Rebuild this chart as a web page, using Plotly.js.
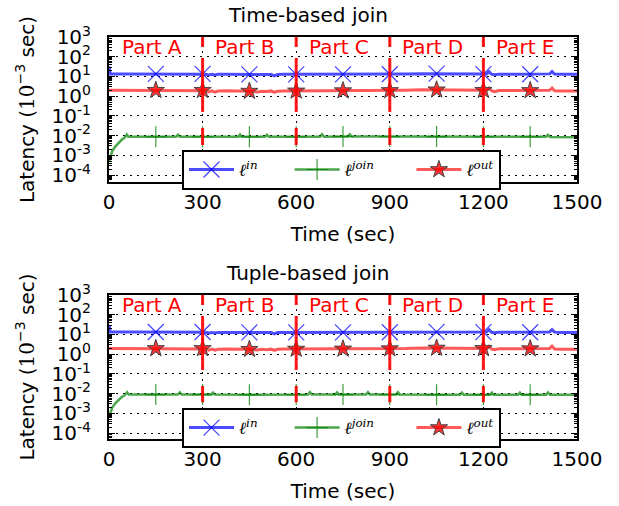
<!DOCTYPE html>
<html><head><meta charset="utf-8">
<script src="https://cdn.plot.ly/plotly-3.0.1.min.js"></script>
<style>html,body{margin:0;padding:0;background:#fff}#chart{width:619px;height:506px}</style>
</head><body><div id="chart"></div>
<script>
// ---- data ----
const tLat = [0,4,50,100,150,200,250,300,310,320,330,340,350,375,400,425,450,475,490,505,520,530,540,560,580,600,650,700,750,800,850,900,950,1000,1050,1100,1150,1200,1210,1218,1226,1235,1250,1300,1350,1400,1412,1420,1428,1450,1500];
const inTime  = [32,13.5,13.5,13.5,13.5,13.5,13.5,13.5,13.0,12.0,12.8,11.8,12.8,12.8,12.9,12.8,12.8,12.5,12.8,12.6,12.7,10.8,12.7,12.8,12.8,12.8,12.8,12.6,12.8,12.9,12.8,13.0,13.3,13.8,13.8,13.6,13.3,13.2,13.4,17.5,13.0,12.2,13.0,13.0,13.0,13.0,13.5,17.5,13.2,12.8,12.8];
const outTime = [2.0,2.0,2.0,2.0,2.0,2.0,2.0,2.0,1.9,1.65,1.85,1.6,1.85,1.9,1.9,1.85,1.8,1.65,1.8,1.72,1.85,1.55,1.8,1.85,1.85,1.85,1.9,1.85,1.9,1.9,1.9,1.95,2.0,2.1,2.1,2.05,2.0,2.0,2.0,2.6,1.9,1.7,1.95,1.95,1.95,1.95,2.0,2.6,1.9,1.85,1.85];
const tJoinTime = [0,5,10,20,30,40,50,57,62,70,150,215,221,227,300,414,420,426,450,500,506,512,600,677,683,689,750,766,772,778,900,1000,1050,1100,1200,1300,1350,1401,1407,1413,1500];
const joinTime  = [4.5e-4,1.0e-3,1.6e-3,2.8e-3,4.3e-3,6.0e-3,8.0e-3,0.0115,0.0088,0.0088,0.0088,0.0088,0.0112,0.0088,0.0088,0.0088,0.0115,0.0088,0.0088,0.0088,0.011,0.0088,0.0088,0.0089,0.0118,0.0089,0.009,0.009,0.0115,0.009,0.009,0.009,0.009,0.0089,0.0088,0.0088,0.0088,0.0088,0.011,0.0086,0.0084];

const inTuple  = [30,13.3,13.3,13.3,13.3,13.3,13.3,13.3,12.9,12.0,12.7,11.8,12.7,12.7,12.8,12.7,12.7,12.4,12.7,12.5,12.6,10.8,12.6,12.7,12.7,12.7,12.7,12.6,12.7,12.8,12.8,12.9,13.2,13.6,13.6,13.5,13.2,13.1,13.3,17.5,12.9,12.2,12.9,12.9,12.9,12.9,13.4,17.5,13.1,12.7,12.7];
const outTuple = [1.95,1.95,1.95,1.95,1.95,1.95,1.95,1.95,1.85,1.6,1.8,1.58,1.8,1.85,1.85,1.8,1.78,1.62,1.78,1.7,1.8,1.55,1.78,1.82,1.82,1.82,1.85,1.82,1.85,1.85,1.85,1.9,1.95,2.05,2.05,2.0,1.95,1.95,1.95,2.55,1.85,1.68,1.9,1.9,1.9,1.9,1.95,2.55,1.85,1.8,1.8];
const tJoinTuple = [0,5,10,20,30,40,50,58,63,70,150,221,227,233,300,327,333,339,450,600,638,644,650,725,731,737,750,824,830,836,900,920,926,932,1050,1125,1131,1137,1200,1221,1227,1233,1311,1317,1323,1350,1401,1407,1413,1500];
const joinTuple  = [6e-4,1.2e-3,1.9e-3,3.2e-3,4.8e-3,6.5e-3,8.3e-3,0.0118,0.009,0.009,0.009,0.009,0.0115,0.009,0.009,0.009,0.0113,0.009,0.0088,0.009,0.009,0.0118,0.009,0.009,0.0115,0.009,0.009,0.009,0.0118,0.009,0.009,0.009,0.0118,0.009,0.0088,0.0088,0.0112,0.0088,0.0088,0.0088,0.0112,0.0088,0.0088,0.0112,0.0088,0.0088,0.0088,0.0115,0.0088,0.0088];

const partLabels = ['Part A','Part B','Part C','Part D','Part E'];
const partStarts = [0,300,600,900,1200];
const partBounds = [300,600,900,1200];
const xTicks = [0,300,600,900,1200,1500];
const yTickVals = [1e-4,1e-3,1e-2,1e-1,1e0,1e1,1e2,1e3];
const yTickText = ['10<sup>-4</sup>','10<sup>-3</sup>','10<sup>-2</sup>','10<sup>-1</sup>','10<sup>0</sup>','10<sup>1</sup>','10<sup>2</sup>','10<sup>3</sup>'];
const markerStep = 150;
const seriesNames = ['<i>ℓ</i><sup><i>in</i></sup>','<i>ℓ</i><sup><i>join</i></sup>','<i>ℓ</i><sup><i>out</i></sup>'];

// ---- styles ----
const BLUE='rgba(0,0,255,0.7)', GREEN='rgba(0,128,0,0.7)', RED='rgba(255,0,0,0.65)';
const mkIn  = {symbol:'x-thin-open', size:16, color:'rgba(0,0,255,0.75)', line:{color:'rgba(0,0,255,0.75)', width:1.2}};
const mkJoin= {symbol:'cross-thin-open', size:15, color:'rgba(0,128,0,0.75)', line:{color:'rgba(0,128,0,0.75)', width:1.2}};
const mkOut = {symbol:'star', size:13, color:'rgba(255,0,0,0.8)', line:{color:'#444', width:1}};
const legendPad = ['&nbsp;&nbsp;&nbsp;&nbsp;&nbsp;','&nbsp;&nbsp;&nbsp;&nbsp;&nbsp;&nbsp;',''];

function pick(t, v){
  const xs=[], ys=[];
  t.forEach((tt,i)=>{ if(tt>0 && tt<1500 && tt%markerStep===0){ xs.push(tt); ys.push(v[i]); } });
  return {xs, ys};
}

function panel(xa, ya, leg, tl, vin, vout, tj, vjoin){
  const tr=[];
  const defs=[[tl,vin,BLUE,3,mkIn],[tj,vjoin,GREEN,2.5,mkJoin],[tl,vout,RED,3,mkOut]];
  defs.forEach(([t,v,c,w,mk])=>{
    tr.push({x:t, y:v, xaxis:xa, yaxis:ya, mode:'lines', line:{color:c, width:w}, showlegend:false, hoverinfo:'skip'});
  });
  defs.forEach(([t,v,c,w,mk])=>{
    const p=pick(t,v);
    tr.push({x:p.xs, y:p.ys, xaxis:xa, yaxis:ya, mode:'markers', marker:mk, showlegend:false, hoverinfo:'skip'});
  });
  defs.forEach(([t,v,c,w,mk],i)=>{
    tr.push({x:[null], y:[null], xaxis:xa, yaxis:ya, mode:'lines+markers', line:{color:c, width:w}, marker:mk,
      name:seriesNames[i]+legendPad[i], legend:leg, showlegend:true});
  });
  return tr;
}

const data = [].concat(
  panel('x','y','legend', tLat, inTime, outTime, tJoinTime, joinTime),
  panel('x2','y2','legend2', tLat, inTuple, outTuple, tJoinTuple, joinTuple)
);

const FONT='DejaVu Sans';
const minorVals=[];
for(let d=-5; d<3; d++){ for(let k=2;k<10;k++){ minorVals.push(k*Math.pow(10,d)); } }

function xAxis(anchor){
  return {domain:[0,1], anchor:anchor, range:[0,1500], tickmode:'array', tickvals:xTicks,
    ticks:'inside', ticklen:5, tickwidth:1, tickcolor:'#000', mirror:'ticks', showline:true, linewidth:2, linecolor:'#000',
    showgrid:true, gridcolor:'#000', griddash:'2px,5px', gridwidth:1, zeroline:false,
    tickfont:{family:FONT, size:20, color:'#000'}, ticklabelstandoff:1,
    title:{text:'Time (sec)', font:{family:FONT, size:20, color:'#000'}, standoff:14}};
}
function yAxis(anchor, dom, lo){
  return {type:'log', domain:dom, anchor:anchor, range:[lo,3], tickmode:'array', tickvals:yTickVals, ticktext:yTickText,
    ticks:'inside', ticklen:6, tickwidth:1, tickcolor:'#000', mirror:'ticks', showline:true, linewidth:2, linecolor:'#000',
    minor:{tickmode:'array', tickvals:minorVals, ticks:'inside', ticklen:3, tickcolor:'#000', showgrid:false},
    showgrid:true, gridcolor:'#000', griddash:'2px,5px', gridwidth:1, zeroline:false,
    tickfont:{family:FONT, size:20, color:'#000'}, ticklabelstandoff:12,
    title:{text:'Latency (<span style="font-family:DejaVu Serif">10</span><sup>−3</sup> sec)', font:{family:FONT, size:20, color:'#000'}, standoff:12}};
}

const shapes=[];
[['x','y domain'],['x2','y2 domain']].forEach(([xr,yr])=>{
  partBounds.forEach(b=>{
    shapes.push({type:'line', xref:xr, yref:yr, x0:b, x1:b, y0:1, y1:0.255, layer:'above',
      line:{color:'rgba(255,0,0,0.9)', width:3, dash:'10px,11px,54px,16px,17px,300px'}});
  });
});

const annotations=[];
[['x','y domain'],['x2','y2 domain']].forEach(([xr,yr])=>{
  partStarts.forEach((s,i)=>{
    annotations.push({xref:xr, yref:yr, x:s+34, y:0.93, xanchor:'left', yanchor:'middle', showarrow:false,
      text:partLabels[i], font:{family:FONT, size:20, color:'#ff0000'}});
  });
});
annotations.push({xref:'paper', yref:'paper', x:0.425, y:1.055, xanchor:'center', yanchor:'middle', showarrow:false,
  text:'Time-based join', font:{family:FONT, size:20, color:'#000'}});
annotations.push({xref:'paper', yref:'paper', x:0.425, y:0.413, xanchor:'center', yanchor:'middle', showarrow:false,
  text:'Tuple-based join', font:{family:FONT, size:20, color:'#000'}});

function legendCfg(y){
  return {x:0.156, y:y, xanchor:'left', yanchor:'top', orientation:'h', bgcolor:'#fff', bordercolor:'#000', borderwidth:2,
    font:{family:'DejaVu Serif', size:17, color:'#000'}, itemwidth:45, valign:'middle', traceorder:'normal'};
}

const layout = {
  width:619, height:506, paper_bgcolor:'#fff', plot_bgcolor:'#fff',
  margin:{l:109, r:42, t:37, b:67},
  xaxis: xAxis('y'), yaxis: yAxis('x',[0.6393,1],-4.35),
  xaxis2: xAxis('y2'), yaxis2: yAxis('x2',[0,0.3582],-4.3),
  legend: legendCfg(0.719), legend2: legendCfg(0.077),
  shapes: shapes, annotations: annotations, showlegend:true
};

Plotly.newPlot('chart', data, layout, {staticPlot:true, displayModeBar:false});
</script></body></html>
